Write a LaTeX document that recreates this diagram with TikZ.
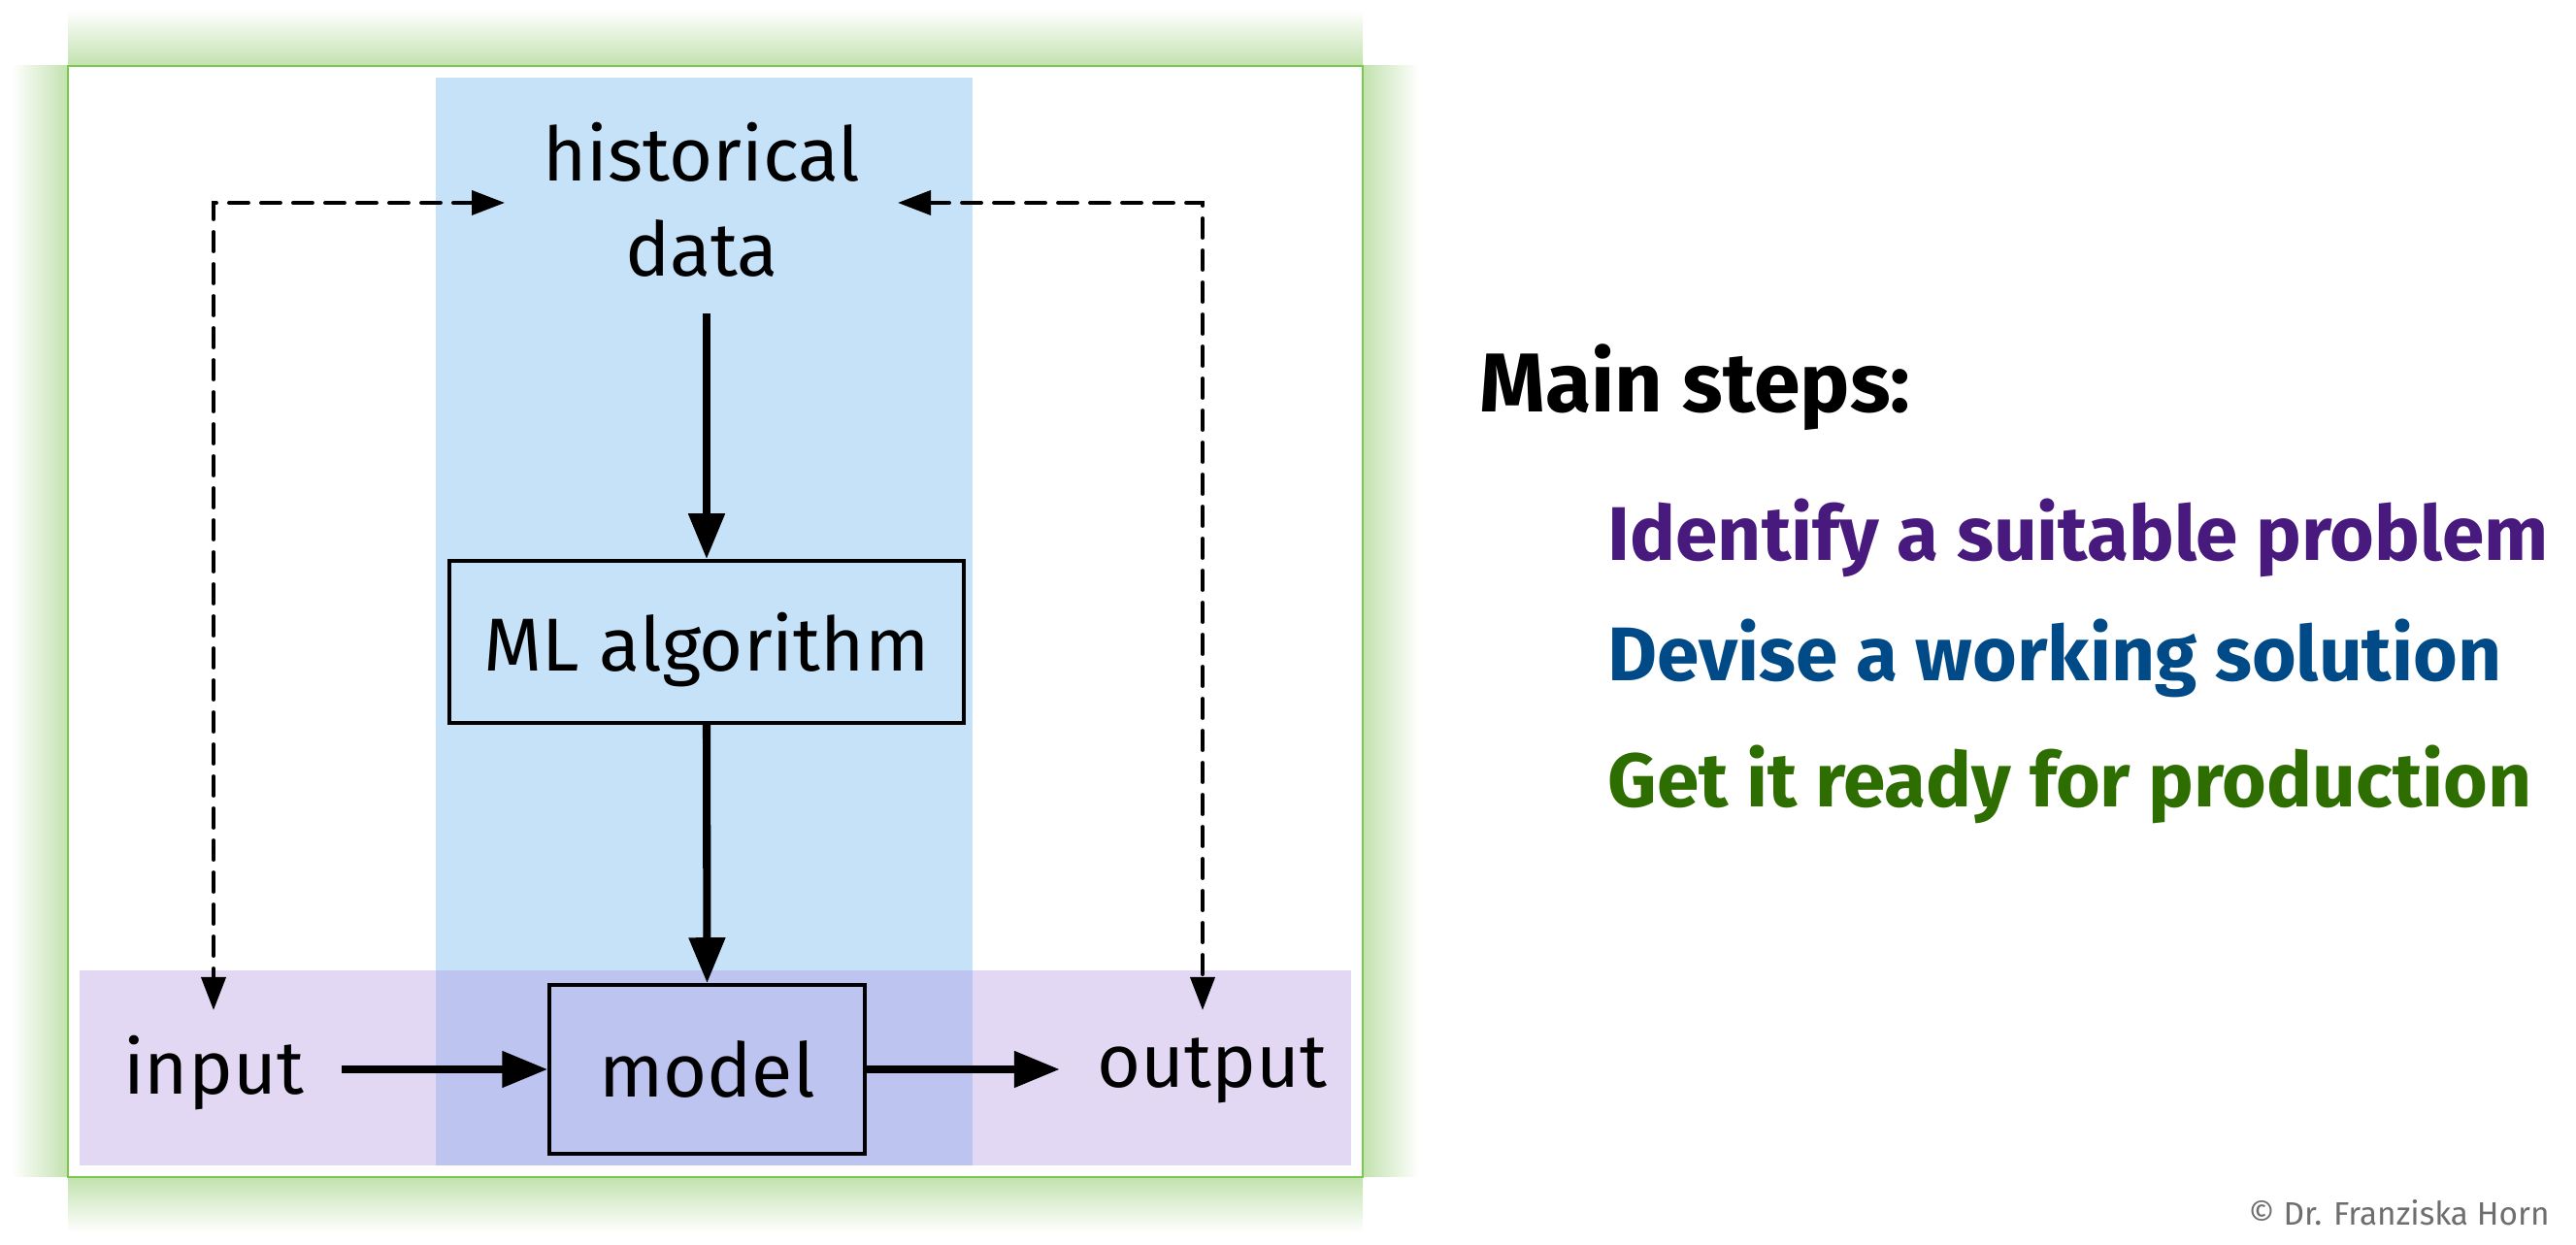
\documentclass[tikz,border=0pt]{standalone}
\usepackage{fontspec}
\setmainfont{Fira Sans}
\usepackage{tikz}
\usetikzlibrary{positioning,arrows.meta,calc}

\definecolor{glowgreen}{HTML}{C2E2AE}
\definecolor{edgegreen}{HTML}{7AC94F}
\definecolor{colblue}{HTML}{C6E2F8}
\definecolor{bandpurple}{HTML}{E3D8F3}
\definecolor{bandover}{HTML}{BCC4EF}
\definecolor{steppurple}{HTML}{491A7E}
\definecolor{stepblue}{HTML}{004B87}
\definecolor{stepgreen}{HTML}{2E6E00}
\definecolor{credgray}{HTML}{6E6E6E}

\tikzset{
  flow/.style={line width=2.3pt, -{Triangle[length=0.47cm,width=0.36cm]}},
  feedback/.style={line width=1.1pt, line cap=round, dash pattern=on 0.2cm off 0.13cm,
    {Triangle[length=0.34cm,width=0.25cm]}-{Triangle[length=0.34cm,width=0.25cm]}},
  blk/.style={draw, line width=1pt, inner sep=0pt},
  io/.style={inner xsep=0.38cm},
  stepline/.style={anchor=base west, inner sep=0pt, font=\fontsize{22.3}{26}\selectfont\bfseries}
}

\begin{document}
\begin{tikzpicture}[font=\fontsize{22}{28}\selectfont]
\useasboundingbox (0,0) rectangle (26.54,12.83);
\fill[white] (0,0) rectangle (26.54,12.83);

% frame with soft green glow on each side
\shade[top color=white, bottom color=glowgreen] (0.70,12.15) rectangle (14.04,12.73);
\shade[top color=glowgreen, bottom color=white] (0.70,0.13) rectangle (14.04,0.70);
\shade[left color=white, right color=glowgreen] (0.12,0.70) rectangle (0.70,12.15);
\shade[left color=glowgreen, right color=white] (14.04,0.70) rectangle (14.62,12.15);
\draw[edgegreen, line width=0.8pt, fill=white] (0.70,0.70) rectangle (14.04,12.15);

% blue column and purple band
\fill[colblue] (4.49,0.82) rectangle (10.02,12.03);
\fill[bandpurple] (0.82,0.82) rectangle (13.92,2.83);
\fill[bandover] (4.49,0.82) rectangle (10.02,2.83);

% nodes
\node[align=center] (hist) at (7.23,10.77) {historical\\data};
\node[blk, minimum width=5.30cm, minimum height=1.67cm, text depth=0pt] (ml) at (7.28,6.215) {ML algorithm};
\node[blk, minimum width=3.25cm, minimum height=1.74cm] (model) at (7.285,1.81) {model};
\node[io, anchor=base] (input) at (2.20,1.55) {input};
\node[io, anchor=base] (output) at (12.49,1.62) {output};

% main flow
\draw[flow] (ml.north |- hist.south) ++(0,-0.25) -- (ml.north);
\draw[flow] (ml.south) -- (model.north);
\draw[flow] (input.east |- model.west) -- (model.west);
\draw[flow] (model.east) -- (output.west |- model.east);

% data comes from inputs and outputs
\coordinate (hl) at (5.20,10.74);
\coordinate (hr) at (9.25,10.74);
\coordinate (intop) at (2.20,2.42);
\coordinate (outtop) at (12.39,2.42);
\draw[feedback] (hl) -| (intop);
\draw[feedback] (hr) -| (outtop);

% steps
\node[anchor=base west, inner sep=0pt, font=\fontsize{24.5}{29}\selectfont\bfseries] (title) at (15.24,8.58) {Main steps:};
\node[stepline, text=steppurple] (identify) at (16.56,7.05) {Identify a suitable problem};
\node[stepline, text=stepblue] (devise) at (16.56,5.81) {Devise a working solution};
\node[stepline, text=stepgreen] (ready) at (16.56,4.51) {Get it ready for production};

\node[anchor=base east, text=credgray, font=\fontsize{9.5}{11}\selectfont] (cred) at (26.39,0.20) {© Dr. Franziska Horn};
\end{tikzpicture}
\end{document}
